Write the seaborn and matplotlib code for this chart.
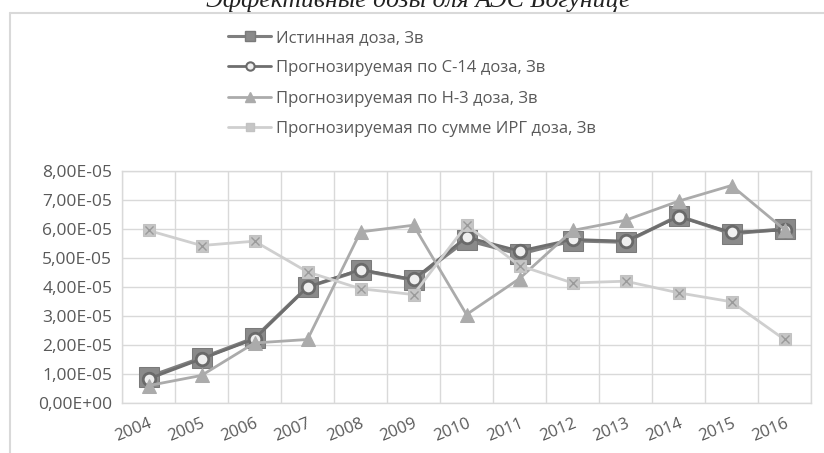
import pandas as pd
import matplotlib.pyplot as plt
import matplotlib.ticker as mticker
from matplotlib.lines import Line2D
import seaborn as sns

years = ["2004", "2005", "2006", "2007", "2008", "2009", "2010",
         "2011", "2012", "2013", "2014", "2015", "2016"]

istinnaya = [0.90e-5, 1.55e-5, 2.24e-5, 4.00e-5, 4.58e-5, 4.24e-5, 5.62e-5,
             5.14e-5, 5.60e-5, 5.55e-5, 6.45e-5, 5.84e-5, 6.00e-5]
c14 = [0.83e-5, 1.52e-5, 2.21e-5, 4.00e-5, 4.60e-5, 4.26e-5, 5.72e-5,
       5.24e-5, 5.64e-5, 5.58e-5, 6.42e-5, 5.89e-5, 5.96e-5]
h3 = [0.60e-5, 0.95e-5, 2.07e-5, 2.19e-5, 5.90e-5, 6.13e-5, 3.05e-5,
      4.29e-5, 5.95e-5, 6.30e-5, 6.96e-5, 7.50e-5, 5.98e-5]
irg = [5.95e-5, 5.43e-5, 5.58e-5, 4.52e-5, 3.94e-5, 3.74e-5, 6.13e-5,
       4.74e-5, 4.14e-5, 4.20e-5, 3.80e-5, 3.49e-5, 2.19e-5]

labels = ["Истинная доза, Зв",
          "Прогнозируемая по С-14 доза, Зв",
          "Прогнозируемая по Н-3 доза, Зв",
          "Прогнозируемая по сумме ИРГ доза, Зв"]

df = pd.DataFrame({"year": years, "ist": istinnaya, "c14": c14, "h3": h3, "irg": irg})

sns.set_style("white")
plt.rcParams["font.family"] = ["Open Sans", "DejaVu Sans"]

fig = plt.figure(figsize=(8.24, 4.53), dpi=100)
W, H = 824, 453
ax = fig.add_axes([122 / W, (H - 403) / H, (811 - 122) / W, (403 - 171) / H])

# series in Excel order (later ones on top)
sns.lineplot(data=df, x="year", y="ist", ax=ax, color="#7f7f7f", lw=2.6,
             marker="s", markersize=15, markeredgecolor="#7a7a7a",
             markerfacecolor="#8a8a8a", zorder=3)
sns.lineplot(data=df, x="year", y="c14", ax=ax, color="#6e6e6e", lw=2,
             marker="o", markersize=9, markeredgecolor="#6a6a6a",
             markeredgewidth=2, markerfacecolor="#efefef", zorder=4)
sns.lineplot(data=df, x="year", y="h3", ax=ax, color="#ababab", lw=2,
             marker="^", markersize=9.5, markeredgecolor="#ababab",
             markerfacecolor="#ababab", zorder=5)
sns.lineplot(data=df, x="year", y="irg", ax=ax, color="#cfcfcf", lw=2,
             marker="s", markersize=8.5, markeredgecolor="#c2c2c2",
             markerfacecolor="#c6c6c6", zorder=6)
sns.scatterplot(data=df, x="year", y="irg", ax=ax, marker="x", s=34,
                color="#9a9a9a", linewidth=1, zorder=7)

ax.set_xlim(-0.5, len(years) - 0.5)
ax.set_ylim(0, 8e-5)
ax.yaxis.set_major_locator(mticker.MultipleLocator(1e-5))
ax.yaxis.set_major_formatter(mticker.FuncFormatter(lambda v, p: f"{v:.2E}".replace(".", ",")))
ax.xaxis.set_minor_locator(mticker.FixedLocator([i - 0.5 for i in range(len(years) + 1)]))
ax.grid(axis="y", which="major", color="#d9d9d9", lw=1)
ax.grid(axis="x", which="minor", color="#d9d9d9", lw=1)
ax.set_axisbelow(True)
for s in ax.spines.values():
    s.set_color("#d9d9d9")
    s.set_linewidth(1)
ax.set_xlabel("")
ax.set_ylabel("")
ax.tick_params(axis="both", which="both", length=0)
ax.tick_params(axis="y", labelsize=12.5, labelcolor="#595959", pad=7)
ax.tick_params(axis="x", labelsize=12, labelcolor="#595959", pad=9)
plt.setp(ax.get_xticklabels(), rotation=22, ha="right", va="top", rotation_mode="anchor")

handles = [
    Line2D([], [], color="#7f7f7f", lw=2.2, marker="s", markersize=7, markerfacecolor="#8a8a8a", markeredgecolor="#7a7a7a"),
    Line2D([], [], color="#6e6e6e", lw=2, marker="o", markersize=6, markerfacecolor="#efefef", markeredgecolor="#6a6a6a", markeredgewidth=1.5),
    Line2D([], [], color="#ababab", lw=2, marker="^", markersize=7, markerfacecolor="#ababab", markeredgecolor="#ababab"),
    Line2D([], [], color="#cfcfcf", lw=2, marker="s", markersize=6, markerfacecolor="#c6c6c6", markeredgecolor="#c2c2c2"),
]
leg = fig.legend(handles, labels, loc="upper left", bbox_to_anchor=(228 / W, 1 - 30 / H),
                 frameon=False, fontsize=12, handlelength=2.6, handletextpad=0.3,
                 labelspacing=0.86, borderpad=0, borderaxespad=0)
for t in leg.get_texts():
    t.set_color("#595959")

# outer chart frame
fig.add_artist(Line2D([10 / W, 1], [1 - 13 / H, 1 - 13 / H], color="#d9d9d9", lw=1.5))
fig.add_artist(Line2D([10 / W, 10 / W], [0, 1 - 13 / H], color="#d9d9d9", lw=1.5))

# title, partly cut by the top edge like in the source
fig.text(418 / W, 1 - 7.5 / H, "Эффективные дозы для АЭС Богунице", ha="center", va="baseline",
         fontsize=18.5, family="Liberation Serif", style="italic", color="#222222")

fig.savefig("out.png", dpi=100)
